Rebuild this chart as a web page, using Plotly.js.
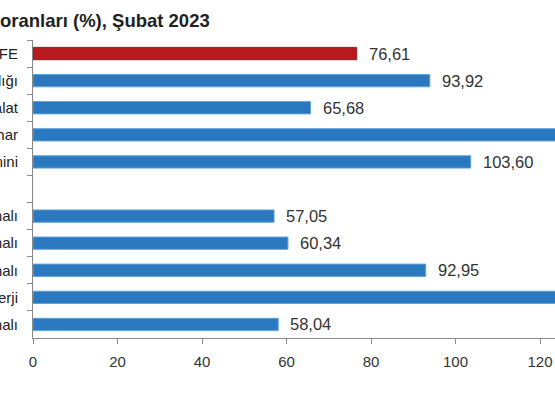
<!DOCTYPE html>
<html>
<head>
<meta charset="utf-8">
<script src="https://cdn.plot.ly/plotly-3.0.1.min.js"></script>
<style>html,body{margin:0;padding:0;background:#fff;}#chart{width:555px;height:394px;}</style>
</head>
<body>
<div id="chart"></div>
<script>
// Categories (top to bottom); " " is the empty spacer row
const categories = ["Yİ-ÜFE", "Madencilik ve taş ocakçılığı", "İmalat", "Elektrik, gaz, buhar", "Su temini", " ",
  "Ara malı", "Dayanıklı tüketim malı", "Dayanıksız tüketim malı", "Enerji", "Sermaye malı"];
// Annual change rates (%)
const values = [76.61, 93.92, 65.68, 185.06, 103.60, null, 57.05, 60.34, 92.95, 141.26, 58.04];
const valueLabels = ["76,61", "93,92", "65,68", "185,06", "103,60", "", "57,05", "60,34", "92,95", "141,26", "58,04"];
const xTicks = [0, 20, 40, 60, 80, 100, 120, 140, 160, 180, 200];
const titleText = "oranları (%), Şubat 2023";

const FONT = "Liberation Sans, Arial, sans-serif";
const XMAX = 123.55;
const red = "#b8191f", blue = "#2a79c0";
const colors = categories.map((c, i) => i === 0 ? red : blue);
const lineColors = categories.map((c, i) => i === 0 ? "#a3141a" : "#63a3d8");

const trace = {
  type: "bar",
  orientation: "h",
  y: categories,
  x: values,
  cliponaxis: true,
  marker: {color: colors, line: {color: lineColors, width: 1}},
  hoverinfo: "none"
};

// value labels placed through the axis scale (those beyond the visible range are clipped away)
const annotations = [];
values.forEach((v, i) => {
  if (v === null || v > XMAX) return;
  annotations.push({
    x: v, y: categories[i], xref: "x", yref: "y",
    text: valueLabels[i], showarrow: false,
    xanchor: "left", yanchor: "middle", xshift: 10, yshift: 0,
    font: {family: FONT, size: 16.5, color: "#333"}
  });
});

const layout = {
  width: 555, height: 394,
  margin: {l: 33, r: 0, t: 40, b: 56, pad: 0},
  paper_bgcolor: "#fff", plot_bgcolor: "#fff",
  showlegend: false,
  bargap: 0.545,
  annotations: annotations,
  title: {
    text: "<b>" + titleText + "</b>",
    xref: "container", yref: "container",
    x: 0, xanchor: "left", y: 0.949, yanchor: "middle",
    pad: {l: 0, r: 0, t: 0, b: 0},
    font: {family: FONT, size: 18.5, color: "#222"}
  },
  xaxis: {
    range: [0, XMAX], autorange: false,
    tickvals: xTicks, ticktext: xTicks.map(String),
    ticks: "outside", ticklen: 5, tickcolor: "#888",
    showline: true, linecolor: "#888", linewidth: 1,
    showgrid: false, zeroline: false,
    tickfont: {family: FONT, size: 15, color: "#333"},
    ticklabelstandoff: 5,
    ticklabeloverflow: "allow",
    fixedrange: true
  },
  yaxis: {
    type: "category",
    categoryorder: "array", categoryarray: categories,
    autorange: "reversed",
    ticks: "outside", tickson: "boundaries", ticklen: 5, tickcolor: "#888",
    showline: true, linecolor: "#888", linewidth: 1,
    showgrid: false, zeroline: false, automargin: false,
    tickfont: {family: FONT, size: 15, color: "#222"},
    ticklabelstandoff: 11,
    fixedrange: true
  }
};

Plotly.newPlot("chart", [trace], layout, {displayModeBar: false, staticPlot: true});
</script>
</body>
</html>
